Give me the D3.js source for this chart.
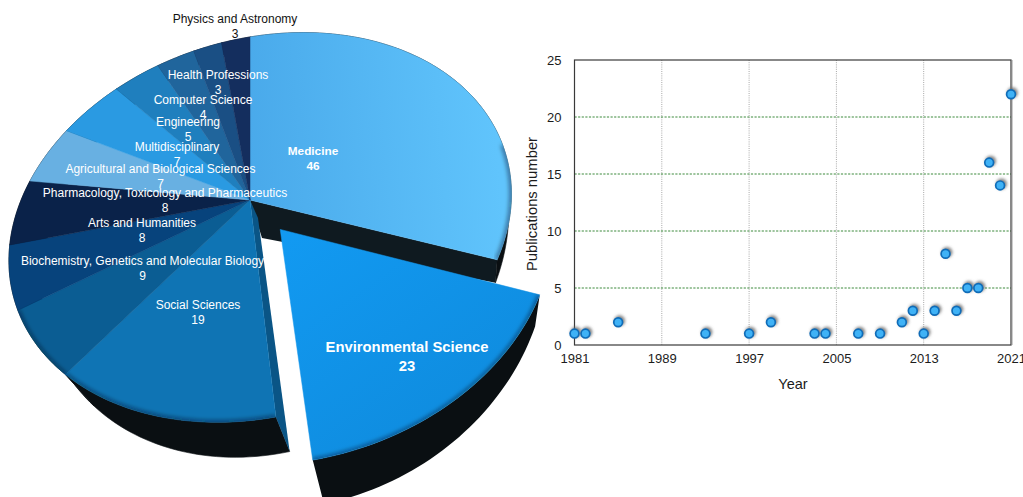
<!DOCTYPE html>
<html>
<head>
<meta charset="utf-8">
<script src="https://cdn.jsdelivr.net/npm/d3@7"></script>
<style>
  body { margin: 0; background: #fff; overflow: hidden; }
  text { font-family: "Liberation Sans", Arial, sans-serif; }
</style>
</head>
<body>
<script>
// Subject areas, clockwise from twelve o'clock
var areas = ["Medicine", "Environmental Science", "Social Sciences",
  "Biochemistry, Genetics and Molecular Biology", "Arts and Humanities",
  "Pharmacology, Toxicology and Pharmaceutics", "Agricultural and Biological Sciences",
  "Multidisciplinary", "Engineering", "Computer Science", "Health Professions",
  "Physics and Astronomy"];
var areaCounts = [46, 23, 19, 9, 8, 8, 7, 7, 5, 4, 3, 3];

// Publications per year
var years = [1981, 1982, 1985, 1993, 1997, 1999, 2003, 2004, 2007, 2009, 2011,
  2012, 2013, 2014, 2015, 2016, 2017, 2018, 2019, 2020, 2021];
var pubCounts = [1, 1, 2, 1, 1, 2, 1, 1, 1, 1, 2, 3, 1, 3, 8, 3, 5, 5, 16, 14, 22];

var yearTicks = [1981, 1989, 1997, 2005, 2013, 2021];
var countTicks = [0, 5, 10, 15, 20, 25];

var sliceColors = ["url(#medGrad)", "url(#envGrad)", "#0f74b4", "#0b5d93", "#07437c",
  "#0a2249", "#68b0e2", "#2a9ae2", "#1f7fbe", "#20659c", "#1a4f84", "#142e5e"];

// label centres for the first line of each pie label
var labelAt = [[313, 151], [407, 347], [198, 305], [142.5, 261], [142, 223], [165, 193],
  [160.5, 169], [177, 147], [188, 122], [203, 100], [218, 75], [235, 19]];

var svg = d3.select("body").append("svg")
  .attr("width", 1023)
  .attr("height", 497);

var defs = svg.append("defs");

var med = defs.append("linearGradient").attr("id", "medGrad")
  .attr("gradientUnits", "userSpaceOnUse")
  .attr("x1", 250).attr("y1", 200).attr("x2", 500).attr("y2", 180);
med.append("stop").attr("offset", 0).attr("stop-color", "#49a9ea");
med.append("stop").attr("offset", 1).attr("stop-color", "#60c4fc");

var env = defs.append("linearGradient").attr("id", "envGrad")
  .attr("gradientUnits", "userSpaceOnUse")
  .attr("x1", 280).attr("y1", 230).attr("x2", 420).attr("y2", 430);
env.append("stop").attr("offset", 0).attr("stop-color", "#129af2");
env.append("stop").attr("offset", 1).attr("stop-color", "#0f8de0");

defs.append("filter").attr("id", "rimBlur")
  .attr("x", "-20%").attr("y", "-20%").attr("width", "140%").attr("height", "140%")
  .append("feGaussianBlur").attr("stdDeviation", 2.2);
defs.append("filter").attr("id", "dotShadow")
  .attr("x", "-100%").attr("y", "-100%").attr("width", "300%").attr("height", "300%")
  .append("feGaussianBlur").attr("stdDeviation", 1.6);

// ---- pie ----
var pie = d3.pie().sort(null).value(d => d)(areaCounts);
var line = d3.line();
var envExplode = 0.21;

// Tilted disc: pie plane to screen, with a perspective divide
function project(s, c) {
  var w = 1 - 0.04 * s - 0.15 * c;
  return [250 + 248 * s / w, 200 + (-34 * s + 187.5 * c) / w];
}

// Bottom edge of the extrusion for a given top point
function drop(p, extra) {
  return [p[0] + 0.07 * (473 - p[0]), p[1] + 23 + 0.074 * (p[1] - 260) + (extra || 0)];
}

function apex(d, explode) {
  if (!explode) return [0, 0];
  var mid = (d.startAngle + d.endAngle) / 2;
  return [explode * Math.sin(mid), -explode * Math.cos(mid)];
}

function rimPoints(d, explode) {
  var o = apex(d, explode);
  var n = Math.max(6, Math.ceil((d.endAngle - d.startAngle) * 40));
  return d3.range(n + 1).map(i => {
    var a = d.startAngle + (d.endAngle - d.startAngle) * i / n;
    return project(o[0] + Math.sin(a), o[1] - Math.cos(a));
  });
}

function centerPoint(d, explode) {
  var o = apex(d, explode);
  return project(o[0], o[1]);
}

var sideBlack = "#0a0f12";
var mainSlices = pie.filter((d, i) => i != 1);
var envSlice = pie[1];

// wall under the Medicine cut
var medRim = rimPoints(pie[0], 0);
var medEnd = medRim[medRim.length - 1];
var hub = centerPoint(pie[0], 0);
svg.append("path")
  .attr("d", line([hub, medEnd, drop(medEnd), [hub[0] + 12, hub[1] + 38]]) + "Z")
  .attr("fill", "#0f1a20");

// extruded band of the main body
svg.append("g").selectAll("path")
  .data(mainSlices)
  .enter().append("path")
  .attr("d", d => {
    var rim = rimPoints(d, 0);
    return line(rim.concat(rim.map(p => drop(p)).reverse())) + "Z";
  })
  .attr("fill", sideBlack)
  .attr("stroke", sideBlack)
  .attr("stroke-width", 0.6);

// wall on the Social Sciences cut
var socRim = rimPoints(pie[2], 0);
svg.append("path")
  .attr("d", line([hub, socRim[0], drop(socRim[0]), [hub[0] + 8, hub[1] + 18]]) + "Z")
  .attr("fill", "#0a5586");

// clip shapes for the soft rim shading
pie.forEach((d, i) => {
  var ex = i == 1 ? envExplode : 0;
  defs.append("clipPath").attr("id", "slice" + i)
    .append("path")
    .attr("d", line([centerPoint(d, ex)].concat(rimPoints(d, ex))) + "Z");
});

function drawTop(g, d, i, ex) {
  var rim = rimPoints(d, ex);
  g.append("path")
    .attr("d", line([centerPoint(d, ex)].concat(rim)) + "Z")
    .attr("fill", sliceColors[i])
    .attr("stroke", sliceColors[i])
    .attr("stroke-width", 0.5);
  if (i < 4) {
    // Medicine only darkens on its lower stretch of rim
    var shaded = i == 0 ? rim.slice(Math.floor(rim.length * 0.72)) : rim;
    g.append("g").attr("clip-path", "url(#slice" + i + ")")
      .append("path")
      .attr("d", line(shaded))
      .attr("fill", "none")
      .attr("stroke", "#02121e")
      .attr("stroke-opacity", 0.55)
      .attr("stroke-width", 3.5)
      .attr("filter", "url(#rimBlur)");
  }
}

var tops = svg.append("g");
pie.forEach((d, i) => { if (i != 1) drawTop(tops, d, i, 0); });

// exploded Environmental Science slice goes on top
var envRim = rimPoints(envSlice, envExplode);
svg.append("path")
  .attr("d", line(envRim.concat(envRim.map(p => drop(p, 6)).reverse())) + "Z")
  .attr("fill", sideBlack);
drawTop(svg.append("g"), envSlice, 1, envExplode);

// pie labels
var labels = svg.append("g").attr("text-anchor", "middle");
areas.forEach((name, i) => {
  var big = i == 1;
  var bold = i < 2;
  var size = big ? 14.8 : (i == 0 ? 11.8 : 12);
  var gap = big ? 19 : 14.5;
  var t = labels.append("g")
    .attr("fill", i == 11 ? "#111" : "#fff")
    .attr("font-size", size)
    .attr("font-weight", bold ? "bold" : "normal");
  t.append("text").attr("x", labelAt[i][0]).attr("y", labelAt[i][1] + size * 0.35).text(name);
  t.append("text").attr("x", labelAt[i][0]).attr("y", labelAt[i][1] + gap + size * 0.35).text(areaCounts[i]);
});

// ---- scatter ----
var x = d3.scaleLinear().domain([1981, 2021]).range([574.5, 1011]);
var y = d3.scaleLinear().domain([0, 25]).range([345, 60]);

var plot = svg.append("g");

plot.append("g").selectAll("line")
  .data(yearTicks.slice(1, -1))
  .enter().append("line")
  .attr("x1", d => x(d)).attr("x2", d => x(d))
  .attr("y1", y(25)).attr("y2", y(0))
  .attr("stroke", "#a8a8a8")
  .attr("stroke-width", 1)
  .attr("stroke-dasharray", "1 1.2");

plot.append("g").selectAll("line")
  .data(countTicks.slice(1, -1))
  .enter().append("line")
  .attr("x1", x(1981)).attr("x2", x(2021))
  .attr("y1", d => y(d)).attr("y2", d => y(d))
  .attr("stroke", "#3d8a3d")
  .attr("stroke-width", 1)
  .attr("stroke-dasharray", "2.2 1.4");

// soft grey edge on the right of the frame
plot.append("line")
  .attr("x1", x(2021) + 1.5).attr("x2", x(2021) + 1.5)
  .attr("y1", y(25)).attr("y2", y(0))
  .attr("stroke", "#ccc").attr("stroke-width", 1);

plot.append("rect")
  .attr("x", x(1981)).attr("y", y(25))
  .attr("width", x(2021) - x(1981)).attr("height", y(0) - y(25))
  .attr("fill", "none")
  .attr("stroke", "#3a3a3a")
  .attr("stroke-width", 1.2);

var xAxis = plot.append("g")
  .attr("transform", "translate(0," + y(0) + ")")
  .call(d3.axisBottom(x).tickValues(yearTicks).tickFormat(d3.format("d")).tickSize(0).tickPadding(9));
var yAxis = plot.append("g")
  .attr("transform", "translate(" + x(1981) + ",0)")
  .call(d3.axisLeft(y).tickValues(countTicks).tickSize(0).tickPadding(13));
[xAxis, yAxis].forEach(a => {
  a.select(".domain").remove();
  a.selectAll("text")
    .attr("font-family", '"Liberation Sans", Arial, sans-serif')
    .attr("font-size", 13)
    .attr("fill", "#1c1c1c");
});

plot.append("text")
  .attr("x", 793).attr("y", 389)
  .attr("text-anchor", "middle")
  .attr("font-size", 14.5)
  .attr("fill", "#1c1c1c")
  .text("Year");
plot.append("text")
  .attr("transform", "translate(537,204) rotate(-90)")
  .attr("text-anchor", "middle")
  .attr("font-size", 14.8)
  .attr("fill", "#1c1c1c")
  .text("Publications number");

var dots = years.map((yr, i) => ({year: yr, count: pubCounts[i]}));

plot.append("g").selectAll("circle")
  .data(dots)
  .enter().append("circle")
  .attr("cx", d => x(d.year) + 1.5)
  .attr("cy", d => y(d.count) - 1.5)
  .attr("r", 5.4)
  .attr("fill", "#666")
  .attr("fill-opacity", 0.8)
  .attr("filter", "url(#dotShadow)");

plot.append("g").selectAll("circle")
  .data(dots)
  .enter().append("circle")
  .attr("cx", d => x(d.year))
  .attr("cy", d => y(d.count))
  .attr("r", 4.4)
  .attr("fill", "#3fb2f6")
  .attr("stroke", "#0f6cb8")
  .attr("stroke-width", 1.7);
</script>
</body>
</html>
